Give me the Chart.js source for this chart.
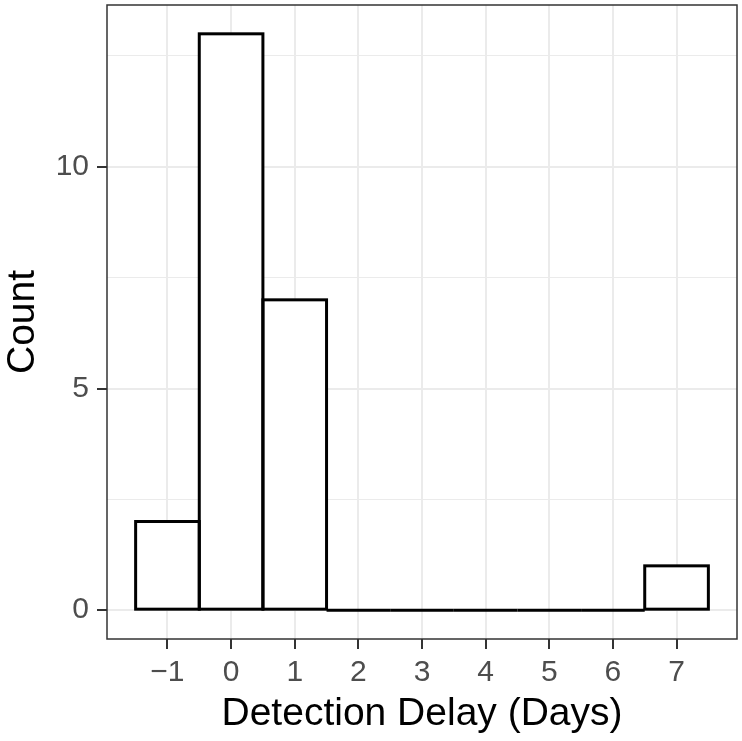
<!DOCTYPE html>
<html>
<head>
<meta charset="utf-8">
<script src="https://cdn.jsdelivr.net/npm/chart.js@4"></script>
<style>
  body { margin: 0; background: #ffffff; }
  #wrap { width: 742px; height: 741px; }
</style>
</head>
<body>
<div id="wrap"><canvas id="histChart" width="742" height="741"></canvas></div>
<script>
// Histogram bins (centre of each 1-day bin) and counts
const binCenters = [-1, 0, 1, 2, 3, 4, 5, 6, 7];
const counts = [2, 13, 7, 0, 0, 0, 0, 0, 1];

// Axis breaks
const xTicks = [-1, 0, 1, 2, 3, 4, 5, 6, 7];
const yMajor = [0, 5, 10];
const yMinor = [2.5, 7.5, 12.5];

const FONT = '"Liberation Sans", Arial, Helvetica, sans-serif';

// ggplot-like outline: stroke every bar rect centred on its edges,
// so empty bins show up as a line along the baseline
const barOutline = {
  id: 'barOutline',
  afterDatasetsDraw(chart) {
    const { ctx } = chart;
    const meta = chart.getDatasetMeta(0);
    ctx.save();
    ctx.strokeStyle = '#000000';
    ctx.lineWidth = 3;
    ctx.lineJoin = 'miter';
    meta.data.forEach((bar) => {
      const p = bar.getProps(['x', 'y', 'base', 'width'], true);
      ctx.strokeRect(p.x - p.width / 2, p.y, p.width, p.base - p.y);
    });
    ctx.restore();
  }
};

// panel border around the plot area
const panelBorder = {
  id: 'panelBorder',
  afterDraw(chart) {
    const { ctx, chartArea } = chart;
    ctx.save();
    ctx.strokeStyle = '#333333';
    ctx.lineWidth = 1.5;
    ctx.strokeRect(chartArea.left, chartArea.top,
      chartArea.right - chartArea.left, chartArea.bottom - chartArea.top);
    ctx.restore();
  }
};

function formatNum(v) {
  return v < 0 ? '\u2212' + Math.abs(v) : String(v);
}

const ctx = document.getElementById('histChart').getContext('2d');
new Chart(ctx, {
  type: 'bar',
  data: {
    datasets: [
      {
        label: 'Count',
        data: binCenters.map((x, i) => ({ x: x, y: counts[i] })),
        backgroundColor: '#ffffff',
        borderWidth: 0,
        barPercentage: 1,
        categoryPercentage: 1,
        grouped: false
      }
    ]
  },
  options: {
    responsive: false,
    animation: false,
    layout: { padding: { top: 5, right: 5, left: 0, bottom: 0 } },
    plugins: {
      legend: { display: false },
      tooltip: { enabled: false }
    },
    scales: {
      x: {
        type: 'linear',
        min: -1.95,
        max: 7.95,
        offset: false,
        afterBuildTicks: (scale) => { scale.ticks = xTicks.map(v => ({ value: v })); },
        afterFit: (scale) => {
          scale.height = 102;
          scale.paddingLeft = 0;
          scale.paddingRight = 0;
        },
        grid: {
          offset: false,
          color: '#ebebeb',
          lineWidth: 2,
          tickLength: 10,
          tickColor: '#333333',
          tickWidth: 2
        },
        border: { display: false },
        ticks: {
          color: '#4d4d4d',
          font: { family: FONT, size: 30 },
          padding: 6,
          maxRotation: 0,
          callback: (v) => formatNum(v)
        },
        title: {
          display: true,
          text: 'Detection Delay (Days)',
          color: '#000000',
          font: { family: FONT, size: 39 },
          padding: { top: 0, bottom: 3 }
        }
      },
      y: {
        type: 'linear',
        min: -0.65,
        max: 13.65,
        afterBuildTicks: (scale) => {
          scale.ticks = yMajor.concat(yMinor).sort((a, b) => a - b).map(v => ({ value: v }));
        },
        afterFit: (scale) => {
          scale.width = 107;
          scale.paddingTop = 0;
          scale.paddingBottom = 0;
        },
        grid: {
          color: '#ebebeb',
          lineWidth: (c) => yMajor.includes(c.tick.value) ? 2 : 1,
          tickLength: 10,
          tickColor: (c) => yMajor.includes(c.tick.value) ? '#333333' : 'rgba(0,0,0,0)',
          tickWidth: 2
        },
        border: { display: false },
        ticks: {
          color: '#4d4d4d',
          font: { family: FONT, size: 30 },
          padding: 8,
          autoSkip: false,
          callback: (v) => yMajor.includes(v) ? formatNum(v) : ''
        },
        title: {
          display: true,
          text: 'Count',
          color: '#000000',
          font: { family: FONT, size: 39 },
          padding: { top: 0, bottom: 0 }
        }
      }
    }
  },
  plugins: [barOutline, panelBorder]
});
</script>
</body>
</html>
